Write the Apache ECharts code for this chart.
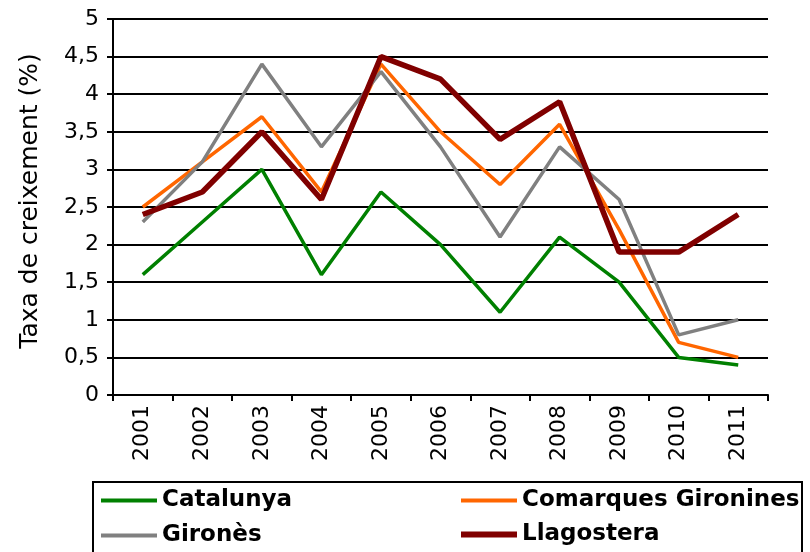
<!DOCTYPE html>
<html>
<head>
<meta charset="utf-8">
<script src="https://cdn.jsdelivr.net/npm/echarts@6/dist/echarts.min.js"></script>
<style>
html,body{margin:0;padding:0;background:#fff;}
#chart{width:810px;height:552px;}
</style>
</head>
<body>
<div id="chart"></div>
<script>
const years = ['2001','2002','2003','2004','2005','2006','2007','2008','2009','2010','2011'];
const catalunya = [1.6, 2.3, 3.0, 1.6, 2.7, 2.0, 1.1, 2.1, 1.5, 0.5, 0.4];
const comarquesGironines = [2.5, 3.1, 3.7, 2.7, 4.4, 3.5, 2.8, 3.6, 2.2, 0.7, 0.5];
const girones = [2.3, 3.1, 4.4, 3.3, 4.3, 3.3, 2.1, 3.3, 2.6, 0.8, 1.0];
const llagostera = [2.4, 2.7, 3.5, 2.6, 4.5, 4.2, 3.4, 3.9, 1.9, 1.9, 2.4];
const seriesNames = ['Catalunya', 'Comarques Gironines', 'Gironès', 'Llagostera'];
const yTitle = 'Taxa de creixement (%)';

const FONT = 'DejaVu Sans';
const colors = ['#008000', '#ff6600', '#808080', '#800000'];
const widths = [3.5, 3.5, 3.5, 5.5];
const dataSets = [catalunya, comarquesGironines, girones, llagostera];

const chart = echarts.init(document.getElementById('chart'), null, {renderer: 'canvas'});

function legendFor(i, left, top, h) {
  return {
    data: [seriesNames[i]],
    left: left, top: top, padding: 0,
    icon: 'rect', itemWidth: 56, itemHeight: h,
    selectedMode: false,
    textStyle: {fontFamily: FONT, fontWeight: 'bold', fontSize: 23, color: '#000'}
  };
}

const option = {
  animation: false,
  backgroundColor: '#fff',
  grid: {left: 113, top: 19, right: 42, bottom: 157, containLabel: false},
  xAxis: {
    type: 'category',
    data: years,
    boundaryGap: true,
    axisLine: {show: true, lineStyle: {color: '#000', width: 2}},
    axisTick: {show: true, length: 6, lineStyle: {color: '#000', width: 2}},
    axisLabel: {rotate: 90, margin: 10, color: '#000', fontFamily: FONT, fontSize: 22},
    splitLine: {show: false}
  },
  yAxis: {
    type: 'value',
    min: 0, max: 5, interval: 0.5,
    name: yTitle,
    nameLocation: 'middle',
    nameRotate: 90,
    nameGap: 70,
    nameTextStyle: {fontFamily: FONT, fontSize: 25, color: '#000', padding: [0, 0, 0, 12]},
    axisLine: {show: true, lineStyle: {color: '#000', width: 2}},
    axisTick: {show: true, length: 6, lineStyle: {color: '#000', width: 2}},
    axisLabel: {
      margin: 14, color: '#000', fontFamily: FONT, fontSize: 22,
      formatter: v => String(v).replace('.', ',')
    },
    splitLine: {show: true, lineStyle: {color: '#000', width: 2}}
  },
  legend: [
    legendFor(0, 101, 489, 4),
    legendFor(2, 101, 524, 4),
    legendFor(1, 461, 489, 4),
    legendFor(3, 461, 523, 6)
  ],
  graphic: [{
    type: 'rect',
    shape: {x: 93, y: 482, width: 709, height: 90},
    style: {fill: 'none', stroke: '#000', lineWidth: 2},
    silent: true
  }],
  series: dataSets.map((d, i) => ({
    name: seriesNames[i],
    type: 'line',
    data: d,
    symbol: 'none',
    lineStyle: {color: colors[i], width: widths[i]},
    itemStyle: {color: colors[i]},
    z: 2 + i
  }))
};
chart.setOption(option);
</script>
</body>
</html>
